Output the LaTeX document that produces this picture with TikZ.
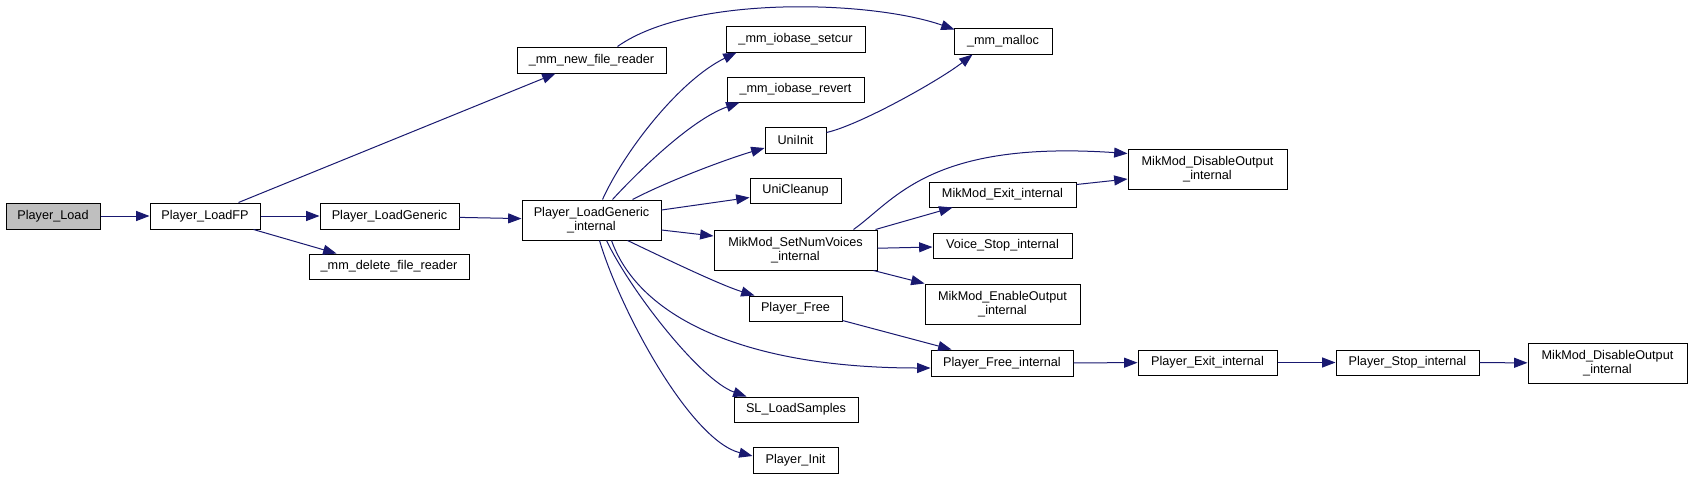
\documentclass[tikz,border=0pt]{standalone}
\usepackage{fontspec}
\setmainfont{Liberation Sans}
\usetikzlibrary{arrows.meta,calc}
\definecolor{mblue}{RGB}{25,25,112}
\definecolor{boxgray}{RGB}{191,191,191}
\newcommand{\mkbox}[7][]{\node[fn,#1,minimum width={(#4-#2)*0.75pt},minimum height={(#5-#3)*0.75pt}] (#6) at ({(#2+#4)/2},{(#3+#5)/2}) {#7};}
\begin{document}
\begin{tikzpicture}[x=0.75pt,y=-0.75pt,
  fn/.style={draw=black,line width=0.75pt,fill=white,inner sep=0pt,align=center,
    font=\fontsize{9.5}{10.8}\selectfont},
  ed/.style={draw=mblue,line width=0.75pt,-{Triangle[length=10pt,width=7.5pt]}}]
\useasboundingbox[fill=white] (0,0) rectangle (1693,479);
\mkbox[fill=boxgray]{6}{203}{100}{229}{pl}{Player\_Load}
\mkbox{150}{203}{260}{229}{fp}{Player\_LoadFP}
\mkbox{320}{203}{459}{229}{lg}{Player\_LoadGeneric}
\mkbox{309}{254}{469}{279}{del}{\_mm\_delete\_file\_reader}
\mkbox{517}{47}{666}{73}{mnr}{\_mm\_new\_file\_reader}
\mkbox{522}{200}{661}{240}{gi}{Player\_LoadGeneric\\\_internal}
\mkbox{726}{26}{865}{52}{sc}{\_mm\_iobase\_setcur}
\mkbox{727}{77}{864}{102}{rv}{\_mm\_iobase\_revert}
\mkbox{765}{127}{826}{153}{ui}{UniInit}
\mkbox{954}{28}{1052}{54}{ml}{\_mm\_malloc}
\mkbox{750}{178}{841}{203}{uc}{UniCleanup}
\mkbox{714}{230}{877}{270}{snv}{MikMod\_SetNumVoices\\\_internal}
\mkbox{749}{296}{842}{321}{pf}{Player\_Free}
\mkbox{931}{350}{1073}{376}{fi}{Player\_Free\_internal}
\mkbox{734}{397}{858}{422}{sl}{SL\_LoadSamples}
\mkbox{753}{447}{838}{473}{pi}{Player\_Init}
\mkbox{1128}{149}{1287}{189}{doa}{MikMod\_DisableOutput\\\_internal}
\mkbox{929}{182}{1076}{207}{ex}{MikMod\_Exit\_internal}
\mkbox{933}{233}{1072}{258}{vs}{Voice\_Stop\_internal}
\mkbox{925}{284}{1080}{324}{eo}{MikMod\_EnableOutput\\\_internal}
\mkbox{1138}{350}{1277}{375}{pe}{Player\_Exit\_internal}
\mkbox{1336}{350}{1479}{375}{ps}{Player\_Stop\_internal}
\mkbox{1528}{343}{1687}{383}{dob}{MikMod\_DisableOutput\\\_internal}
% edges
\draw[ed] (pl) -- (fp);
\draw[ed] (fp) -- (lg);
\draw[ed] (lg) -- (gi);
\draw[ed] ($(fp.north east)+(-22,0)$) -- ($(mnr.south west)+(39,0)$);
\draw[ed] ($(fp.south east)+(-7,0)$) -- ($(del.north west)+(28,0)$);
\draw[ed] ($(mnr.north west)+(101,0)$) .. controls (690,-5) and (870,0) .. ($(ml.north west)+(1,2)$);
\draw[ed] ($(gi.north west)+(81,0)$) .. controls (625,150) and (680,80) .. ($(sc.south west)+(11,0)$);
\draw[ed] ($(gi.north west)+(91,0)$) .. controls (635,175) and (690,120) .. ($(rv.south west)+(13,0)$);
\draw[ed] ($(gi.north west)+(111,0)$) .. controls (670,180) and (730,158) .. ($(ui.west)+(0,8)$);
\draw[ed] ($(ui.north east)+(0,6)$) .. controls (860,125) and (940,80) .. ($(ml.south west)+(19,0)$);
\draw[ed] ($(gi.east)+(0,-10)$) -- ($(uc.west)+(0,7)$);
\draw[ed] ($(gi.east)+(0,10)$) -- ($(snv.west)+(0,-14)$);
\draw[ed] ($(gi.south west)+(106,0)$) .. controls (660,256) and (720,285) .. ($(pf.north west)+(6,0)$);
\draw[ed] ($(gi.south west)+(90,0)$) .. controls (640,320) and (750,368) .. ($(fi.west)+(0,5)$);
\draw[ed] ($(gi.south west)+(85,0)$) .. controls (630,290) and (700,380) .. ($(sl.north west)+(13,0)$);
\draw[ed] ($(gi.south west)+(78,0)$) .. controls (620,310) and (690,440) .. ($(pi.west)+(0,-4)$);
\draw[ed] ($(snv.north east)+(-24,0)$) .. controls (895,200) and (930,140) .. ($(doa.north west)+(0,5)$);
\draw[ed] ($(snv.north east)+(-2,0)$) -- ($(ex.south west)+(24,0)$);
\draw[ed] (snv) -- (vs);
\draw[ed] ($(snv.south east)+(-4,0)$) -- (eo.north west);
\draw[ed] ($(ex.north east)+(0,3)$) -- ($(doa.west)+(0,10)$);
\draw[ed] ($(pf.south east)+(0,-1)$) -- ($(fi.north west)+(21,0)$);
\draw[ed] (fi) -- (pe);
\draw[ed] (pe) -- (ps);
\draw[ed] (ps) -- (dob);
\end{tikzpicture}
\end{document}
